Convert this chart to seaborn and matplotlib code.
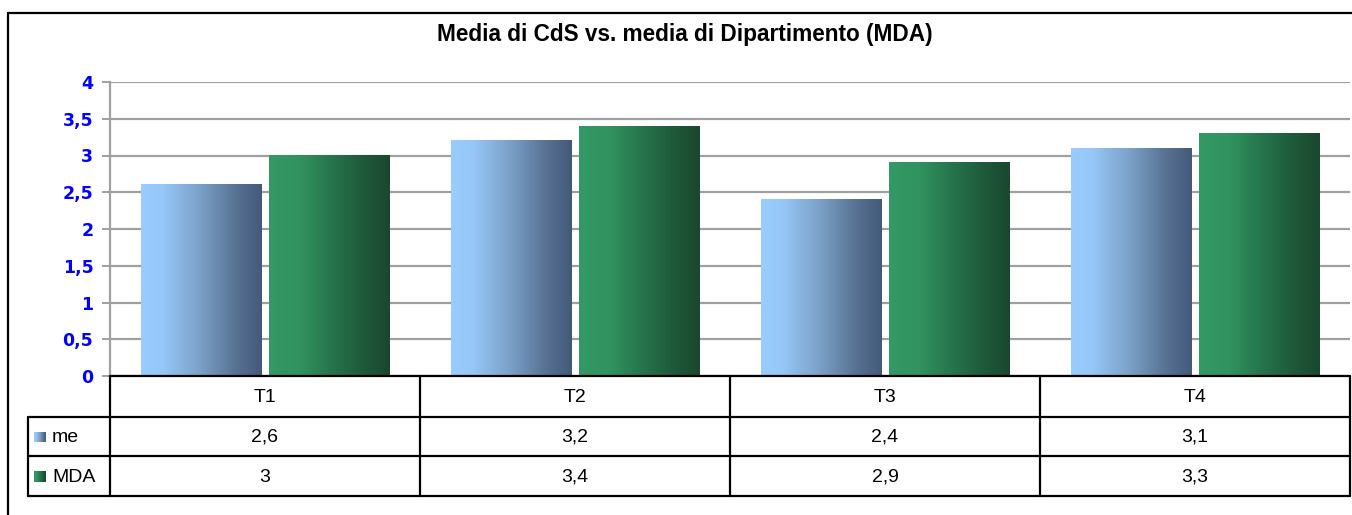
import numpy as np
import pandas as pd
import seaborn as sns
import matplotlib
matplotlib.use("Agg")
import matplotlib.pyplot as plt
from matplotlib.colors import LinearSegmentedColormap, to_hex
from matplotlib.lines import Line2D

# ---------------- data ----------------
categories = ["T1", "T2", "T3", "T4"]
series_names = ["me", "MDA"]
me_values = [2.6, 3.2, 2.4, 3.1]
mda_values = [3.0, 3.4, 2.9, 3.3]
y_ticks = [0, 0.5, 1, 1.5, 2, 2.5, 3, 3.5, 4]
title = "Media di CdS vs. media di Dipartimento (MDA)"

df = pd.DataFrame({
    "cat": categories * 2,
    "serie": [series_names[0]] * 4 + [series_names[1]] * 4,
    "val": me_values + mda_values,
})

def fmt(v):
    s = ("%g" % v)
    return s.replace(".", ",")

# ---------------- style ----------------
sns.set_style("white")
plt.rcParams["font.family"] = ["Liberation Sans", "DejaVu Sans"]
plt.rcParams["text.color"] = "black"

W, H = 1352, 515
fig = plt.figure(figsize=(W / 100, H / 100), dpi=100)

def fx(px):
    return px / W

def fy(py):
    return 1 - py / H

ax_left, ax_right, ax_top, ax_bottom = 110, 1350, 82, 376
ax = fig.add_axes([fx(ax_left), fy(ax_bottom), fx(ax_right - ax_left), (ax_bottom - ax_top) / H])

pal = {"me": "#99CCFF", "MDA": "#339966"}
sns.barplot(data=df, x="cat", y="val", hue="serie", palette=pal, width=0.83, gap=0.065,
            ax=ax, legend=False, saturation=1)

cmaps = {
    "me": LinearSegmentedColormap.from_list("me", [(0, "#99CCFF"), (0.18, "#96C7F8"), (0.5, "#7A9FC6"),
                                                    (0.78, "#587393"), (1, "#44597A")]),
    "MDA": LinearSegmentedColormap.from_list("mda", [(0, "#339966"), (0.25, "#31935F"), (0.55, "#25714A"),
                                                      (0.8, "#1E5839"), (1, "#1A472F")]),
}
grad = np.linspace(0, 1, 256).reshape(1, -1)

for p in list(ax.patches):
    fc = to_hex(p.get_facecolor())
    key = "me" if fc.lower() == pal["me"].lower() else "MDA"
    x0, y0, w, h = p.get_x(), p.get_y(), p.get_width(), p.get_height()
    ax.imshow(grad, extent=[x0, x0 + w, y0, y0 + h], aspect="auto", cmap=cmaps[key],
              zorder=2, interpolation="bilinear")
    p.set_visible(False)

ax.set_xlim(-0.5, len(categories) - 0.5)
ax.set_ylim(0, 4)
ax.set_yticks(y_ticks)
ax.set_yticklabels([fmt(v) for v in y_ticks], fontfamily="DejaVu Sans", fontweight="bold",
                   color="#0000FF", fontsize=12.5)
ax.set_xticks([])
ax.set_xlabel("")
ax.set_ylabel("")
ax.yaxis.grid(True, color="#A0A0A0", lw=1.6)
ax.set_axisbelow(True)
ax.tick_params(axis="y", length=6, width=1.4, color="#A0A0A0", pad=6, left=True)
for s in ["top", "right", "bottom"]:
    ax.spines[s].set_visible(False)
ax.spines["left"].set_color("#A0A0A0")
ax.spines["left"].set_linewidth(1.6)

# ---------------- title and frame ----------------
fig.text(fx(685), fy(34), title, ha="center", va="center", fontsize=16.3, fontweight="bold",
         color="black")
fig.add_artist(Line2D([fx(8), fx(1352)], [fy(13), fy(13)], color="black", lw=1.6))
fig.add_artist(Line2D([fx(8), fx(8)], [fy(13), fy(515)], color="black", lw=1.6))

# ---------------- data table ----------------
fig.canvas.draw()
to_px = lambda xd: ax.transData.transform((xd, 0))[0]
n = len(categories)
bounds_px = [to_px(i - 0.5) for i in range(n + 1)]
centers_px = [to_px(i) for i in range(n)]

rows_y = [376, 417, 456, 496]
lab_left = 28
lw = 1.6
fig.add_artist(Line2D([fx(bounds_px[0]), fx(bounds_px[-1])], [fy(rows_y[0])] * 2, color="black", lw=lw))
for yy in rows_y[1:]:
    fig.add_artist(Line2D([fx(lab_left), fx(bounds_px[-1])], [fy(yy)] * 2, color="black", lw=lw))
for xb in bounds_px:
    fig.add_artist(Line2D([fx(xb)] * 2, [fy(rows_y[0]), fy(rows_y[-1])], color="black", lw=lw))
fig.add_artist(Line2D([fx(lab_left)] * 2, [fy(rows_y[1]), fy(rows_y[-1])], color="black", lw=lw))

tsize = 14
for c, xc in zip(categories, centers_px):
    fig.text(fx(xc), fy((rows_y[0] + rows_y[1]) / 2 + 1), c, ha="center", va="center",
             fontsize=tsize, color="black")
for r, (name, vals) in enumerate([(series_names[0], me_values), (series_names[1], mda_values)]):
    yc = (rows_y[r + 1] + rows_y[r + 2]) / 2 + 1
    for v, xc in zip(vals, centers_px):
        fig.text(fx(xc), fy(yc), fmt(v), ha="center", va="center", fontsize=tsize, color="black")
    kax = fig.add_axes([fx(34), fy(yc + 5), fx(12), 11 / H])
    kax.imshow(grad, aspect="auto", cmap=cmaps[name], interpolation="bilinear")
    kax.set_axis_off()
    fig.text(fx(52), fy(yc), name, ha="left", va="center", fontsize=tsize, color="black")

fig.savefig("out.png", dpi=100)
